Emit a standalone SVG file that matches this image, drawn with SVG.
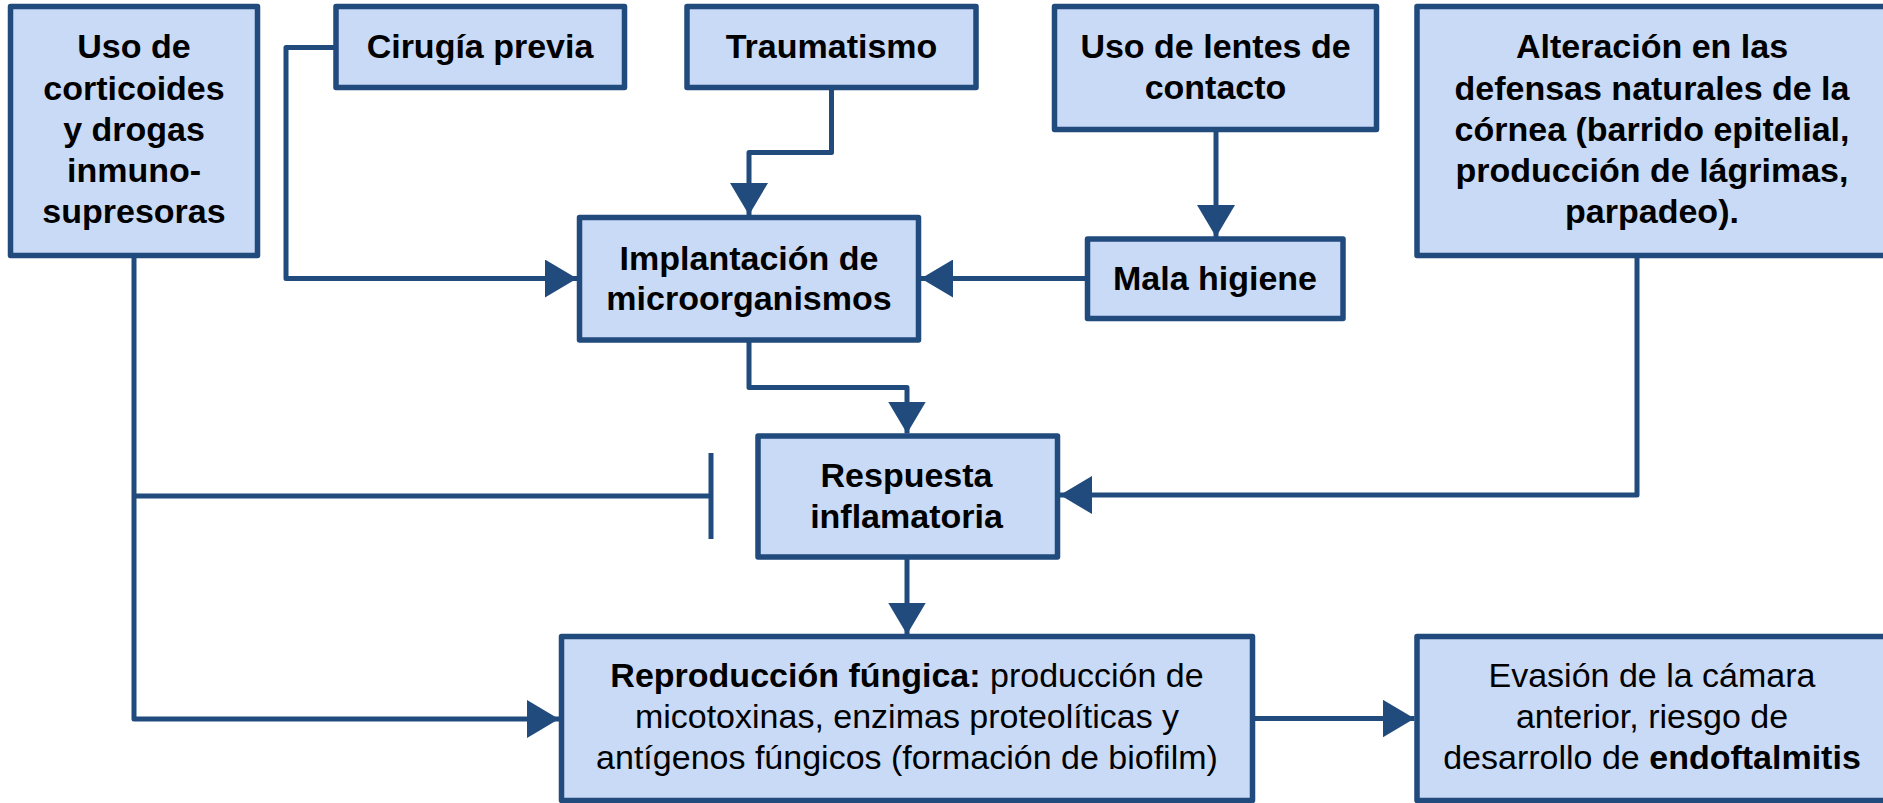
<svg xmlns="http://www.w3.org/2000/svg" width="1883" height="803" viewBox="0 0 1883 803">
<style>
.box{fill:#C9DAF6;stroke:#214A7D;stroke-width:5.5;stroke-linejoin:round}
.t{font-family:"Liberation Sans",Arial,sans-serif;font-size:34px;fill:#000;text-anchor:middle}
.b{font-weight:bold}
.r{font-weight:normal}
.c{fill:none;stroke:#214A7D;stroke-width:5;stroke-linejoin:round}
.ca{marker-end:url(#ah)}
</style>
<defs>
<marker id="ah" markerUnits="userSpaceOnUse" markerWidth="32" markerHeight="38" refX="32" refY="19" orient="auto">
<path d="M0,0 L32,19 L0,38 Z" fill="#214A7D"/>
</marker>
</defs>
<rect width="1883" height="803" fill="#fff"/>
<g id="connectors">
<path class="c ca" d="M134,258 V719 H559"/>
<path class="c" d="M134,496 H709"/>
<path class="c" d="M711,453 V539"/>
<path class="c ca" d="M334,47.5 H286 V278.5 H577"/>
<path class="c ca" d="M831.5,90 V152.5 H749 V215"/>
<path class="c ca" d="M1216,131.5 V237"/>
<path class="c ca" d="M1085,278.5 H921"/>
<path class="c ca" d="M749,342 V387.5 H907 V433.5"/>
<path class="c ca" d="M907,559 V634.5"/>
<path class="c ca" d="M1637,258 V495 H1060"/>
<path class="c ca" d="M1255,718.5 H1414.5"/>
</g>
<g id="n-corticoides">
<rect class="box" x="10.5" y="6.5" width="247" height="249"/>
<text class="t b"><tspan x="134" y="58">Uso de</tspan><tspan x="134" y="99.5">corticoides</tspan><tspan x="134" y="140.5">y drogas</tspan><tspan x="134" y="182">inmuno-</tspan><tspan x="134" y="223">supresoras</tspan></text>
</g>
<g id="n-cirugia">
<rect class="box" x="336" y="6.5" width="288.5" height="81"/>
<text class="t b" x="480" y="58">Cirugía previa</text>
</g>
<g id="n-traumatismo">
<rect class="box" x="687" y="6.5" width="289" height="81"/>
<text class="t b" x="831.5" y="58">Traumatismo</text>
</g>
<g id="n-lentes">
<rect class="box" x="1054.5" y="6.5" width="322" height="123"/>
<text class="t b"><tspan x="1215.5" y="57.5">Uso de lentes de</tspan><tspan x="1215.5" y="99">contacto</tspan></text>
</g>
<g id="n-alteracion">
<rect class="box" x="1417" y="6.5" width="480" height="249"/>
<text class="t b"><tspan x="1652" y="58">Alteración en las</tspan><tspan x="1652" y="99.5">defensas naturales de la</tspan><tspan x="1652" y="140.5">córnea (barrido epitelial,</tspan><tspan x="1652" y="182">producción de lágrimas,</tspan><tspan x="1652" y="223">parpadeo).</tspan></text>
</g>
<g id="n-implantacion">
<rect class="box" x="579.5" y="217.5" width="339" height="122.5"/>
<text class="t b"><tspan x="749" y="270">Implantación de</tspan><tspan x="749" y="310">microorganismos</tspan></text>
</g>
<g id="n-higiene">
<rect class="box" x="1087.5" y="239" width="255.5" height="79.5"/>
<text class="t b" x="1215" y="289.5">Mala higiene</text>
</g>
<g id="n-respuesta">
<rect class="box" x="758" y="436" width="299.5" height="121"/>
<text class="t b"><tspan x="906.5" y="486.5">Respuesta</tspan><tspan x="906.5" y="527.5">inflamatoria</tspan></text>
</g>
<g id="n-reproduccion">
<rect class="box" x="561.5" y="636.5" width="691" height="164"/>
<text class="t r"><tspan x="907" y="687"><tspan class="b">Reproducción fúngica:</tspan> producción de</tspan><tspan x="907" y="728">micotoxinas, enzimas proteolíticas y</tspan><tspan x="907" y="769">antígenos fúngicos (formación de biofilm)</tspan></text>
</g>
<g id="n-evasion">
<rect class="box" x="1417" y="636.5" width="480" height="164"/>
<text class="t r"><tspan x="1652" y="687">Evasión de la cámara</tspan><tspan x="1652" y="728">anterior, riesgo de</tspan><tspan x="1652" y="769">desarrollo de <tspan class="b">endoftalmitis</tspan></tspan></text>
</g>
</svg>
